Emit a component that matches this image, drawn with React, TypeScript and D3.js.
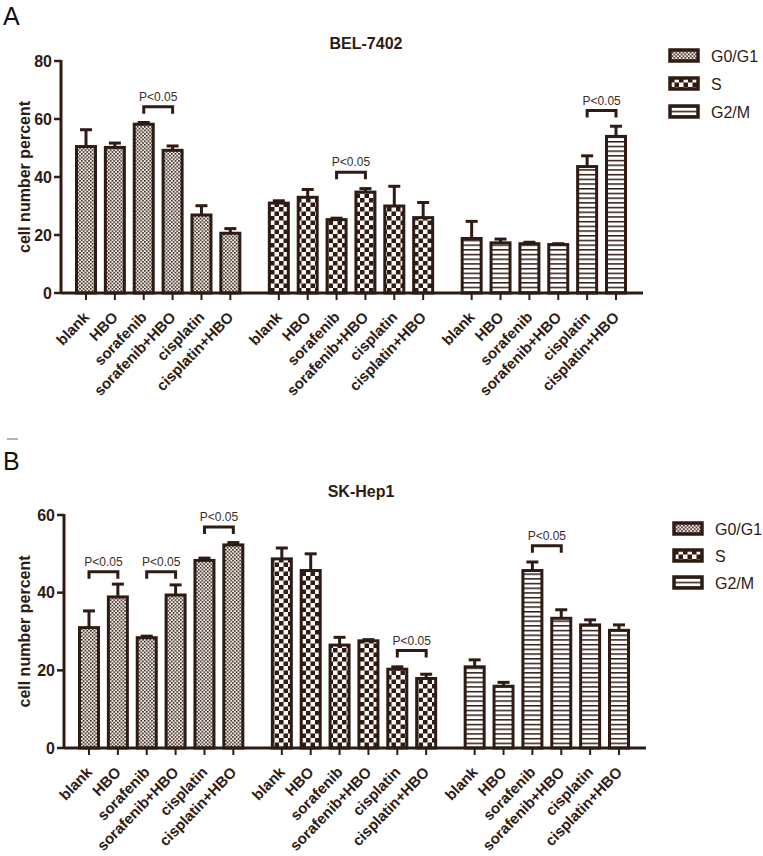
import * as d3 from 'd3';

const categories = ['blank', 'HBO', 'sorafenib', 'sorafenib+HBO', 'cisplatin', 'cisplatin+HBO'];
const phases = ['G0/G1', 'S', 'G2/M'];

// BEL-7402, rows = phases
const belMeans = [
  [50.5, 50.2, 58.2, 49.2, 26.9, 20.6],
  [31.0, 33.0, 25.3, 34.8, 30.0, 26.0],
  [18.8, 17.3, 17.0, 16.7, 43.6, 54.0],
];
const belErrs = [
  [5.8, 1.5, 0.6, 1.5, 3.2, 1.6],
  [0.8, 2.7, 0.5, 1.2, 6.8, 5.2],
  [5.9, 1.3, 0.5, 0.3, 3.7, 3.5],
];
const belTicks = [0, 20, 40, 60, 80];

// SK-Hep1
const skMeans = [
  [31.0, 38.9, 28.4, 39.4, 48.3, 52.3],
  [48.7, 45.7, 26.5, 27.6, 20.3, 17.9],
  [20.9, 15.9, 45.7, 33.4, 31.7, 30.3],
];
const skErrs = [
  [4.3, 3.3, 0.4, 2.6, 0.6, 0.6],
  [2.8, 4.3, 2.0, 0.3, 0.6, 1.1],
  [1.8, 1.0, 2.2, 2.2, 1.3, 1.4],
];
const skTicks = [0, 20, 40, 60];

// significance brackets: phase group, left bar, right bar, height in data units
type Bracket = { phase: number; a: number; b: number; level: number };
const belBrackets: Bracket[] = [
  { phase: 0, a: 2, b: 3, level: 64.2 },
  { phase: 1, a: 2, b: 3, level: 41.6 },
  { phase: 2, a: 4, b: 5, level: 62.9 },
];
const skBrackets: Bracket[] = [
  { phase: 0, a: 0, b: 1, level: 45.4 },
  { phase: 0, a: 2, b: 3, level: 45.4 },
  { phase: 0, a: 4, b: 5, level: 56.9 },
  { phase: 1, a: 4, b: 5, level: 25.1 },
  { phase: 2, a: 2, b: 3, level: 52.1 },
];

const INK = '#2e1c14';
const FONT = '"Liberation Sans", Arial, sans-serif';
const GROUP_GAP = 0.68;
const BAR_W = 19;
const fills = ['url(#pat-g0)', 'url(#pat-s)', 'url(#pat-g2)'];

interface PanelProps {
  letter: string;
  letterY: number;
  title: string;
  titleX: number;
  titleY: number;
  means: number[][];
  errs: number[][];
  ticks: number[];
  brackets: Bracket[];
  axisX: number;
  top: number;
  bottom: number;
  legendX: number;
  legendY: number;
  legendStep: number;
}

const slot = (g: number, i: number) => g * (categories.length + GROUP_GAP) + i;

const Panel = ({
  letter, letterY, title, titleX, titleY, means, errs, ticks, brackets,
  axisX, top, bottom, legendX, legendY, legendStep,
}: PanelProps) => {
  const yMax = ticks[ticks.length - 1];
  const y = d3.scaleLinear().domain([0, yMax]).range([bottom, top]);
  const x = d3.scaleLinear().domain([0, slot(2, 5)]).range([axisX + 25, axisX + 555]);
  const axisEnd = axisX + 582;

  return (
    <g>
      <text x={3} y={letterY} fontSize={25} fontFamily={FONT} fill="#111">{letter}</text>
      <text x={titleX} y={titleY} textAnchor="middle" fontSize={16} fontWeight="bold" fontFamily={FONT} fill={INK}>
        {title}
      </text>
      <text
        transform={`translate(30,${(top + bottom) / 2}) rotate(-90)`}
        textAnchor="middle" fontSize={16} fontWeight="bold" fontFamily={FONT} fill={INK}
      >
        cell number percent
      </text>

      {/* bars */}
      {means.map((row, g) =>
        row.map((v, i) => {
          const cx = x(slot(g, i));
          const topV = y(v + errs[g][i]);
          return (
            <g key={`${g}-${i}`}>
              <rect x={cx - BAR_W / 2} y={y(v)} width={BAR_W} height={bottom - y(v)}
                fill={fills[g]} stroke={INK} strokeWidth={3} />
              <line x1={cx} x2={cx} y1={y(v)} y2={topV} stroke={INK} strokeWidth={3} />
              <line x1={cx - 6} x2={cx + 6} y1={topV} y2={topV} stroke={INK} strokeWidth={3} />
            </g>
          );
        })
      )}

      {/* y axis */}
      <line x1={axisX} x2={axisX} y1={top - 1} y2={bottom} stroke={INK} strokeWidth={3} />
      {ticks.map(t => (
        <g key={t}>
          <line x1={axisX - 7} x2={axisX} y1={y(t)} y2={y(t)} stroke={INK} strokeWidth={2.5} />
          <text x={axisX - 9} y={y(t)} dy="0.36em" textAnchor="end" fontSize={16} fontWeight="bold"
            fontFamily={FONT} fill={INK}>{t}</text>
        </g>
      ))}

      {/* x axis */}
      <line x1={axisX} x2={axisEnd} y1={bottom} y2={bottom} stroke={INK} strokeWidth={3} />
      {phases.map((_, g) =>
        categories.map((c, i) => {
          const cx = x(slot(g, i));
          return (
            <g key={`t-${g}-${i}`}>
              <line x1={cx} x2={cx} y1={bottom} y2={bottom + 7} stroke={INK} strokeWidth={2} />
              <text transform={`translate(${cx + 4},${bottom + 25}) rotate(-46)`} textAnchor="end"
                fontSize={15} fontWeight="bold" fontFamily={FONT} fill={INK}>{c}</text>
            </g>
          );
        })
      )}

      {/* significance brackets */}
      {brackets.map((b, k) => {
        const x1 = x(slot(b.phase, b.a));
        const x2 = x(slot(b.phase, b.b));
        const by = y(b.level);
        return (
          <g key={`b-${k}`}>
            <path d={`M${x1},${by + 7}V${by}H${x2}V${by + 7}`} fill="none" stroke={INK} strokeWidth={3} />
            <text x={(x1 + x2) / 2} y={by - 6} textAnchor="middle" fontSize={12} fontFamily={FONT}
              fill="#3a2c24">P&lt;0.05</text>
          </g>
        );
      })}

      {/* legend */}
      {phases.map((p, g) => (
        <g key={p} transform={`translate(${legendX},${legendY + g * legendStep})`}>
          <rect x={0} y={0} width={28} height={11} fill={fills[g]} stroke={INK} strokeWidth={3.5} />
          <text x={41} y={6} dy="0.36em" fontSize={16} fontFamily={FONT} fill={INK}>{p}</text>
        </g>
      ))}
    </g>
  );
};

export default function App() {
  return (
    <svg width={763} height={856} style={{ position: 'absolute', left: 0, top: 0, background: '#fff' }}>
      <defs>
        <pattern id="pat-g0" patternUnits="userSpaceOnUse" width={3.6} height={3.6}>
          <rect width={3.6} height={3.6} fill="#f3eee9" />
          <rect width={1.6} height={1.6} fill={INK} />
          <rect x={1.8} y={1.8} width={1.6} height={1.6} fill={INK} />
        </pattern>
        <pattern id="pat-s" patternUnits="userSpaceOnUse" width={9} height={9}>
          <rect width={9} height={9} fill="#fbf8f6" />
          <rect width={4.5} height={4.5} fill={INK} />
          <rect x={4.5} y={4.5} width={4.5} height={4.5} fill={INK} />
        </pattern>
        <pattern id="pat-g2" patternUnits="userSpaceOnUse" width={6} height={4.7}>
          <rect width={6} height={4.7} fill="#fff" />
          <rect width={6} height={1.5} fill={INK} />
        </pattern>
      </defs>
      <rect width={763} height={856} fill="#fff" />
      <Panel letter="A" letterY={25} title="BEL-7402" titleX={366} titleY={49}
        means={belMeans} errs={belErrs} ticks={belTicks} brackets={belBrackets}
        axisX={61} top={61} bottom={293} legendX={670} legendY={50} legendStep={28} />
      <line x1={7} x2={18} y1={439} y2={439} stroke="#666" strokeWidth={1} />
      <Panel letter="B" letterY={470} title="SK-Hep1" titleX={361} titleY={497}
        means={skMeans} errs={skErrs} ticks={skTicks} brackets={skBrackets}
        axisX={64} top={515} bottom={748} legendX={674} legendY={523} legendStep={27} />
    </svg>
  );
}
